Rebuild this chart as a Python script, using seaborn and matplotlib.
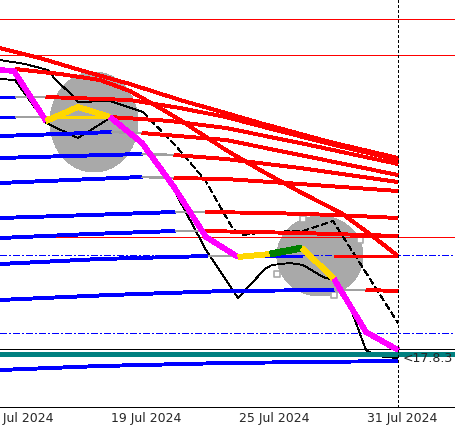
import numpy as np
import matplotlib
matplotlib.use("Agg")
import matplotlib.pyplot as plt
import matplotlib.transforms as mtransforms
from matplotlib.patches import Ellipse
import seaborn as sns

# daily bars, bar 0 = 19 Jul 2024 (weekends skipped)
tick_bars = [-4, 0, 4, 8]
tick_labels = ["15 Jul 2024", "19 Jul 2024", "25 Jul 2024", "31 Jul 2024"]
now_bar = 9

# main price trace (segment states: trend / pullback / breakout)
price_bars = [-3.44, -3, -2, -1, 0, 1, 2, 3, 4, 5, 6, 7, 8, 9]
price_vals = [2430, 2429, 2379, 2393, 2383, 2357, 2313, 2263, 2243, 2246, 2252, 2221, 2168, 2150]
price_state = ["trend", "trend", "pullback", "pullback", "trend", "trend", "trend", "trend",
               "pullback", "breakout", "pullback", "trend", "trend"]

# thin black traces
upper_bars = [-3.44, -2.66, -1.94, -1.72, -1.19, -1.0, 0, 1.03, 2.03, 2.97, 3.84, 4.16, 4.88, 6.03, 6.97, 9.0]
upper_vals = [2440, 2436, 2430, 2421, 2405, 2398, 2399, 2388, 2355, 2320, 2271, 2265, 2268, 2269, 2279, 2177]
lower_bars = [-3.44, -2.97, -2.0, -1.0, 0, 1.0, 2.0, 3.0, 4.0, 4.84, 5.06, 5.62, 6.03, 6.66, 6.97, 7.34, 8.0, 8.31, 8.97]
lower_vals = [2421, 2420, 2377, 2362, 2382, 2355, 2310, 2250, 2202, 2231, 2235, 2237, 2235, 2223, 2220, 2207, 2150, 2144, 2142]

# red arcs
arc_top_bars = [-3.44, -2.19, -0.94, 0.62, 2.19, 3.62, 4.69, 6.88, 9]
arc_top_vals = [2452, 2442, 2430, 2416, 2400, 2387, 2377, 2358, 2342]
arc_steep_bars = [-2.97, -1.56, -0.31, 0.62, 1.56, 2.19, 3.62, 4.69, 5.94, 7.22, 8.12, 9]
arc_steep_vals = [2431, 2426, 2420, 2409, 2392, 2380, 2350, 2330, 2308, 2287, 2266, 2244]

# level rows: points, state change bars, states
row1_bars = [-3.44, -2.0, 0.62, 2.19, 3.62, 4.69, 6.88, 9.0]
row1_vals = [2403, 2403, 2400, 2392, 2383, 2374, 2356, 2340]
row1_cuts, row1_states = [-2.97, -2.0], ["below", "idle", "above"]
row2_bars = [-3.44, -2.0, 0, 1.88, 3.62, 5.94, 9.0]
row2_vals = [2383, 2383, 2383, 2379, 2372, 2357, 2336]
row2_cuts, row2_states = [-2.97, -2.0, 0.0], ["below", "idle", "touch", "above"]
row3_bars = [-3.44, -1.56, 0.06, 1.0, 3.62, 5.94, 9.0]
row3_vals = [2364, 2366, 2368, 2367, 2360, 2345, 2325]
row3_cuts, row3_states = [0.06, 1.0], ["below", "idle", "above"]
row4_bars = [-3.44, -1.25, 1.0, 2.0, 3.62, 5.94, 9.0]
row4_vals = [2342, 2344, 2346, 2345, 2341, 2332, 2318]
row4_cuts, row4_states = [1.0, 2.0], ["below", "idle", "above"]
row5_bars = [-3.44, -1.25, 1.0, 2.0, 3.62, 5.94, 9.0]
row5_vals = [2317, 2320, 2323, 2322, 2321, 2316, 2309]
row5_cuts, row5_states = [1.0, 2.0], ["below", "idle", "above"]
row6_bars = [-3.44, -0.62, 2.03, 2.97, 5.0, 7.06, 9.0]
row6_vals = [2282, 2285, 2288, 2288, 2287, 2285, 2282]
row6_cuts, row6_states = [2.03, 2.97], ["below", "idle", "above"]
row7_bars = [-3.44, -0.62, 2.03, 2.97, 5.94, 9.0]
row7_vals = [2262, 2266, 2269, 2269, 2267, 2264]
row7_cuts, row7_states = [2.03, 2.97], ["below", "idle", "above"]
row8_bars = [-3.44, -0.31, 3.06, 9.0]
row8_vals = [2236, 2241, 2244, 2244]
row8_cuts, row8_states = [3.06, 4.0, 6.0, 7.0], ["below", "idle", "below", "none", "above"]
row9_bars = [-3.44, 0, 3.62, 7.0, 8.0, 9.0]
row9_vals = [2200, 2205, 2209, 2210, 2210, 2209]
row9_cuts, row9_states = [7.0, 8.0], ["below", "idle", "above"]
row10_bars = [-3.44, -0.31, 3.62, 9.0]
row10_vals = [2130, 2134, 2137, 2139]
row10_cuts, row10_states = [], ["below"]

# horizontal levels
red_levels = [2481, 2445, 2263]
dashdot_levels = [2245, 2167]
base_level = 2151
band_level = 2146.5

# zones
zone_bars = [-0.5, 6.56]
zone_vals = [2378, 2244]
zone_span = [2.75, 2.69]
zone_range = [100, 80]
mark_bars = [6.03, 5.22, 7.0, 7.81]
mark_vals = [2281, 2226, 2205, 2260]
tag_text = "<17.8.3"
tag_val = 2141

sns.set_style("white")
plt.rcParams["lines.solid_capstyle"] = "butt"
plt.rcParams["lines.antialiased"] = False
plt.rcParams["patch.antialiased"] = False
fig = plt.figure(figsize=(4.56, 4.28), dpi=100)
ax = fig.add_axes([0, 21 / 428, 1, 407 / 428])
ax.set_xlim(-3.4375, 10.8125)
ax.set_ylim(2093, 2500)

THIN = 0.6
THICK = 2.1


def line(xs, ys, color, lw, ls="-", z=3):
    sns.lineplot(x=xs, y=ys, color=color, lw=lw, linestyle=ls, sort=False,
                 estimator=None, ax=ax, zorder=z, legend=False, antialiased=False)


for cx, cy, w, h in zip(zone_bars, zone_vals, zone_span, zone_range):
    ax.add_patch(Ellipse((cx, cy), w, h, color="#a9a9a9", lw=0, zorder=1, antialiased=False))
ax.scatter(mark_bars, mark_vals, marker="s", s=14, facecolor="white",
           edgecolor="#a9a9a9", linewidth=1.2, zorder=1.5)

for lv in red_levels:
    ax.axhline(lv, color="#ff0000", lw=THIN, zorder=2, antialiased=False)
for lv in dashdot_levels:
    ax.axhline(lv, color="#0000ff", lw=THIN, linestyle=(0, (8, 3, 2, 3)), zorder=2, antialiased=False)
ax.axhline(base_level, color="black", lw=THIN, zorder=2, antialiased=False)
ax.axhline(band_level, color="#008080", lw=3.6, zorder=4, antialiased=False)

line(upper_bars[:8], upper_vals[:8], "black", THIN, z=2)
line(upper_bars[7:], upper_vals[7:], "black", THIN, ls=(0, (8, 4)), z=2)
line(lower_bars, lower_vals, "black", THIN, z=2)

line(arc_top_bars, arc_top_vals, "#ff0000", THICK)
line(arc_steep_bars, arc_steep_vals, "#ff0000", THICK)

state_colors = {"below": "#0000ff", "idle": "#a0a0a0", "touch": "#ffd700", "above": "#ff0000"}
state_width = {"below": THICK, "idle": 1.1, "touch": THICK, "above": THICK}
rows = [
    (row1_bars, row1_vals, row1_cuts, row1_states),
    (row2_bars, row2_vals, row2_cuts, row2_states),
    (row3_bars, row3_vals, row3_cuts, row3_states),
    (row4_bars, row4_vals, row4_cuts, row4_states),
    (row5_bars, row5_vals, row5_cuts, row5_states),
    (row6_bars, row6_vals, row6_cuts, row6_states),
    (row7_bars, row7_vals, row7_cuts, row7_states),
    (row8_bars, row8_vals, row8_cuts, row8_states),
    (row9_bars, row9_vals, row9_cuts, row9_states),
    (row10_bars, row10_vals, row10_cuts, row10_states),
]
for xs, ps, cuts, states in rows:
    bounds = [xs[0]] + cuts + [xs[-1]]
    for a, b, st in zip(bounds[:-1], bounds[1:], states):
        if st == "none" or b <= a:
            continue
        sx = [a] + [x for x in xs if a < x < b] + [b]
        line(sx, np.interp(sx, xs, ps), state_colors[st], state_width[st])

price_colors = {"trend": "#ff00ff", "pullback": "#ffd700", "breakout": "#008000"}
price_width = {"trend": 3.3, "pullback": 3.5, "breakout": 4.2}
for i, st in enumerate(price_state):
    line(price_bars[i:i + 2], price_vals[i:i + 2], price_colors[st], price_width[st], z=5)

ax.axvline(now_bar, color="black", lw=THIN, linestyle=(0, (3, 2.5)), zorder=6, antialiased=False)
ax.text(now_bar + 0.16, tag_val, tag_text, fontsize=9, ha="left", va="center", zorder=7)

for s in ["top", "left", "right"]:
    ax.spines[s].set_visible(False)
ax.spines["bottom"].set_color("black")
ax.spines["bottom"].set_linewidth(THIN)
ax.spines["bottom"].set_antialiased(False)
ax.set_yticks([])
ax.set_xticks([b for b in tick_bars if b >= -3.4375])
ax.tick_params(axis="x", direction="out", length=3, width=THIN, color="black", labelbottom=False)
trans = mtransforms.blended_transform_factory(ax.transData, ax.transAxes)
for b, t in zip(tick_bars, tick_labels):
    ax.text(b + 0.03, -0.012, t, transform=trans, fontsize=9, ha="left", va="top", clip_on=False)
ax.set_xlabel("")
ax.set_ylabel("")

fig.savefig("out.png", dpi=100)
